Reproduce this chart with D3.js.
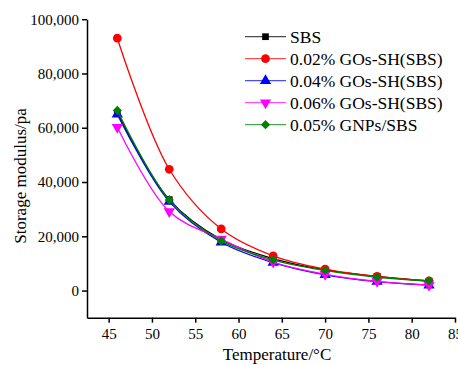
<!DOCTYPE html>
<html>
<head>
<meta charset="utf-8">
<script src="https://cdn.jsdelivr.net/npm/d3@7"></script>
<style>
  body { margin: 0; background: #fff; }
  text { font-family: "Liberation Serif", "Times New Roman", serif; }
</style>
</head>
<body>
<div id="chart"></div>
<script>
const temps = [46, 52, 58, 64, 70, 76, 82];
const seriesNames = ["SBS", "0.02% GOs-SH(SBS)", "0.04% GOs-SH(SBS)", "0.06% GOs-SH(SBS)", "0.05% GNPs/SBS"];
const sbs = [65500, 33500, 18800, 11800, 7600, 5200, 3400];
const gos02 = [93000, 44700, 22700, 12800, 7900, 5200, 3600];
const gos04 = [65000, 32800, 17800, 10300, 5800, 3300, 2000];
const gos06 = [60200, 29100, 19000, 10500, 6000, 3400, 2000];
const gnps05 = [66400, 33400, 18300, 11300, 7400, 4900, 3600];
const xTicks = [45, 50, 55, 60, 65, 70, 75, 80, 85];
const yTicks = [0, 20000, 40000, 60000, 80000, 100000];

const colors = ["#000000", "#ff0000", "#0000ff", "#ff00ff", "#008000"];
const shapes = ["square", "circle", "up", "down", "diamond"];
const allSeries = [sbs, gos02, gos04, gos06, gnps05];

const width = 458, height = 365;
const svg = d3.select("#chart").append("svg")
    .attr("width", width).attr("height", height);

const x = d3.scaleLinear().domain([42.5, 85]).range([87, 455]);
const y = d3.scaleLinear().domain([-10000, 100000]).range([317.7, 19.2]);

// axes
const xAxis = svg.append("g")
    .attr("transform", `translate(0,${y(-10000)})`)
    .call(d3.axisBottom(x).tickValues(xTicks).tickSize(5).tickSizeOuter(0).tickFormat(d3.format("d")));
const yAxis = svg.append("g")
    .attr("transform", `translate(${x(42.5)},0)`)
    .call(d3.axisLeft(y).tickValues(yTicks).tickSize(5).tickSizeOuter(0).tickFormat(d3.format(",")));

[xAxis, yAxis].forEach(a => {
    a.select(".domain").attr("stroke", "#000").attr("stroke-width", 1.5);
    a.selectAll(".tick line").attr("stroke", "#000").attr("stroke-width", 1.5);
    a.selectAll(".tick text").attr("fill", "#000")
        .style("font-family", "'Liberation Serif', serif").style("font-size", "15px");
});
xAxis.selectAll(".tick text").attr("dy", "0.9em");

svg.append("text")
    .attr("x", 277).attr("y", 360)
    .attr("text-anchor", "middle")
    .style("font-size", "17px")
    .text("Temperature/\u00b0C");

svg.append("text")
    .attr("transform", "translate(26,176) rotate(-90)")
    .attr("text-anchor", "middle")
    .style("font-size", "17px")
    .text("Storage modulus/pa");

// draw a marker at (cx, cy)
function marker(g, i, cx, cy) {
    const s = shapes[i];
    let d, rot = 0;
    if (s === "square") d = d3.symbol(d3.symbolSquare, 45)();
    else if (s === "circle") d = d3.symbol(d3.symbolCircle, 60)();
    else if (s === "up") d = d3.symbol(d3.symbolTriangle, 55)();
    else if (s === "down") { d = d3.symbol(d3.symbolTriangle, 55)(); rot = 180; }
    else { d = d3.symbol(d3.symbolSquare, 42)(); rot = 45; }
    g.append("path")
        .attr("d", d)
        .attr("transform", `translate(${cx},${cy}) rotate(${rot})`)
        .attr("fill", colors[i]);
}

const line = d3.line()
    .x((d, i) => x(temps[i]))
    .y(d => y(d))
    .curve(d3.curveCatmullRom.alpha(0.5));

allSeries.forEach((vals, i) => {
    const g = svg.append("g");
    g.append("path")
        .datum(vals)
        .attr("d", line)
        .attr("fill", "none")
        .attr("stroke", colors[i])
        .attr("stroke-width", 1.3);
    vals.forEach((v, j) => marker(g, i, x(temps[j]), y(v)));
});

// legend
const legend = svg.append("g");
seriesNames.forEach((name, i) => {
    const ly = 36.7 + i * 22;
    legend.append("line")
        .attr("x1", 245).attr("x2", 286)
        .attr("y1", ly).attr("y2", ly)
        .attr("stroke", colors[i]).attr("stroke-width", 1.3)
        .attr("stroke-opacity", 0.7);
    marker(legend, i, 265.5, ly);
    legend.append("text")
        .attr("x", 290).attr("y", ly)
        .attr("dy", "0.35em")
        .style("font-size", "17.5px")
        .text(name);
});
</script>
</body>
</html>
